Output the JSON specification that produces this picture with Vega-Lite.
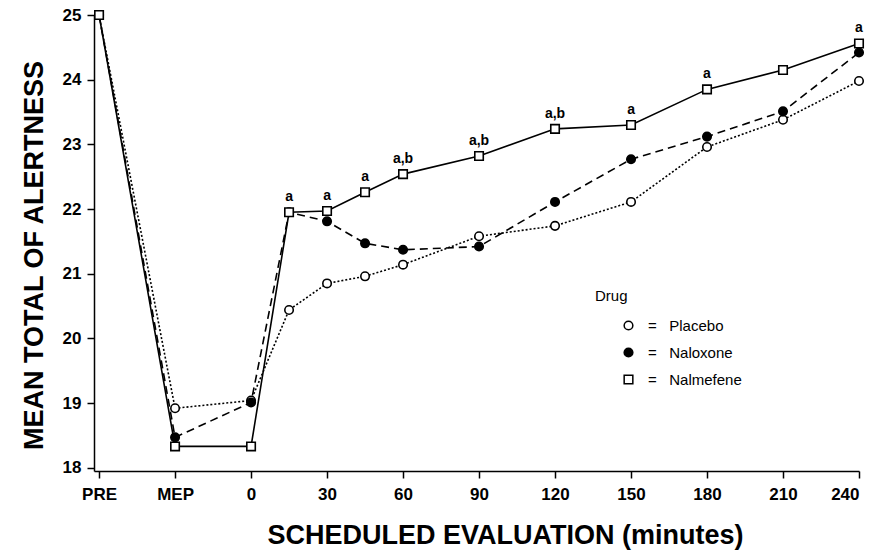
{
  "$schema": "https://vega.github.io/schema/vega-lite/v6.json",
  "autosize": {"type": "none"},
  "width": 765,
  "height": 456,
  "padding": {"left": 94, "top": 15, "right": 19, "bottom": 80},
  "background": "white",
  "config": {
    "font": "Liberation Sans",
    "view": {"stroke": null},
    "axis": {"grid": false, "domainColor": "black", "domainWidth": 1.5, "tickColor": "black", "tickWidth": 1.5, "tickSize": 7, "labelColor": "black", "labelFont": "Liberation Sans", "labelFontWeight": "bold", "labelFontSize": 17, "titleFont": "Liberation Sans", "titleFontWeight": "bold", "titleFontSize": 27, "titleColor": "black"},
    "legend": {"orient": "none", "legendX": 501, "legendY": 274, "titleFont": "Liberation Sans", "titleFontSize": 15, "titleFontWeight": "normal", "titleColor": "black", "titlePadding": 14, "labelFont": "Liberation Sans", "labelFontSize": 15, "labelColor": "black", "symbolSize": 75, "symbolOffset": 26, "rowPadding": 11, "labelOffset": 12}
  },
  "data": {"values": [
    {"t": -60, "drug": "Placebo", "v": 25, "ann": ""},
    {"t": -30, "drug": "Placebo", "v": 18.92, "ann": ""},
    {"t": 0, "drug": "Placebo", "v": 19.04, "ann": ""},
    {"t": 15, "drug": "Placebo", "v": 20.44, "ann": ""},
    {"t": 30, "drug": "Placebo", "v": 20.85, "ann": ""},
    {"t": 45, "drug": "Placebo", "v": 20.96, "ann": ""},
    {"t": 60, "drug": "Placebo", "v": 21.14, "ann": ""},
    {"t": 90, "drug": "Placebo", "v": 21.58, "ann": ""},
    {"t": 120, "drug": "Placebo", "v": 21.74, "ann": ""},
    {"t": 150, "drug": "Placebo", "v": 22.11, "ann": ""},
    {"t": 180, "drug": "Placebo", "v": 22.96, "ann": ""},
    {"t": 210, "drug": "Placebo", "v": 23.38, "ann": ""},
    {"t": 240, "drug": "Placebo", "v": 23.98, "ann": ""},
    {"t": -60, "drug": "Naloxone", "v": 25, "ann": ""},
    {"t": -30, "drug": "Naloxone", "v": 18.47, "ann": ""},
    {"t": 0, "drug": "Naloxone", "v": 19.01, "ann": ""},
    {"t": 15, "drug": "Naloxone", "v": 21.95, "ann": ""},
    {"t": 30, "drug": "Naloxone", "v": 21.81, "ann": ""},
    {"t": 45, "drug": "Naloxone", "v": 21.47, "ann": ""},
    {"t": 60, "drug": "Naloxone", "v": 21.37, "ann": ""},
    {"t": 90, "drug": "Naloxone", "v": 21.42, "ann": ""},
    {"t": 120, "drug": "Naloxone", "v": 22.11, "ann": ""},
    {"t": 150, "drug": "Naloxone", "v": 22.77, "ann": ""},
    {"t": 180, "drug": "Naloxone", "v": 23.12, "ann": ""},
    {"t": 210, "drug": "Naloxone", "v": 23.51, "ann": ""},
    {"t": 240, "drug": "Naloxone", "v": 24.42, "ann": ""},
    {"t": -60, "drug": "Nalmefene", "v": 25, "ann": ""},
    {"t": -30, "drug": "Nalmefene", "v": 18.33, "ann": ""},
    {"t": 0, "drug": "Nalmefene", "v": 18.33, "ann": ""},
    {"t": 15, "drug": "Nalmefene", "v": 21.95, "ann": "a"},
    {"t": 30, "drug": "Nalmefene", "v": 21.97, "ann": "a"},
    {"t": 45, "drug": "Nalmefene", "v": 22.26, "ann": "a"},
    {"t": 60, "drug": "Nalmefene", "v": 22.54, "ann": "a,b"},
    {"t": 90, "drug": "Nalmefene", "v": 22.82, "ann": "a,b"},
    {"t": 120, "drug": "Nalmefene", "v": 23.24, "ann": "a,b"},
    {"t": 150, "drug": "Nalmefene", "v": 23.30, "ann": "a"},
    {"t": 180, "drug": "Nalmefene", "v": 23.85, "ann": "a"},
    {"t": 210, "drug": "Nalmefene", "v": 24.15, "ann": ""},
    {"t": 240, "drug": "Nalmefene", "v": 24.56, "ann": "a"}
  ]},
  "encoding": {
    "x": {"field": "t", "type": "quantitative", "scale": {"domain": [-62, 240], "nice": false, "zero": false},
      "axis": {"values": [-60, -30, 0, 30, 60, 90, 120, 150, 180, 210, 240], "labelExpr": "datum.value == -60 ? 'PRE' : datum.value == -30 ? 'MEP' : datum.label", "title": "SCHEDULED EVALUATION (minutes)", "labelPadding": 8, "titlePadding": 20, "titleX": 411}},
    "y": {"field": "v", "type": "quantitative", "scale": {"domain": [17.95, 25], "nice": false, "zero": false},
      "axis": {"values": [18, 19, 20, 21, 22, 23, 24, 25], "title": "MEAN TOTAL OF ALERTNESS", "labelPadding": 6, "titlePadding": 14, "titleY": 240}}
  },
  "layer": [
    {
      "transform": [{"filter": "datum.drug == 'Placebo'"}],
      "mark": {"type": "line", "stroke": "black", "strokeWidth": 1.6, "strokeDash": [2, 2]},
      "encoding": {}
    },
    {
      "transform": [{"filter": "datum.drug == 'Naloxone'"}],
      "mark": {"type": "line", "stroke": "black", "strokeWidth": 1.6, "strokeDash": [8, 5]},
      "encoding": {}
    },
    {
      "transform": [{"filter": "datum.drug == 'Nalmefene'"}],
      "mark": {"type": "line", "stroke": "black", "strokeWidth": 1.6},
      "encoding": {}
    },
    {
      "mark": {"type": "point", "stroke": "black", "strokeWidth": 1.6, "opacity": 1, "size": 72},
      "encoding": {
        "shape": {"field": "drug", "type": "nominal", "title": "Drug", "scale": {"domain": ["Placebo", "Naloxone", "Nalmefene"], "range": ["circle", "circle", "square"]},
          "legend": {"labelExpr": "'=\u00a0\u00a0\u00a0' + datum.label", "encode": {"symbols": {"update": {"stroke": {"value": "black"}, "strokeWidth": {"value": 1.6}}}}}},
        "fill": {"field": "drug", "type": "nominal", "title": "Drug", "scale": {"domain": ["Placebo", "Naloxone", "Nalmefene"], "range": ["white", "black", "white"]},
          "legend": {"labelExpr": "'=\u00a0\u00a0\u00a0' + datum.label", "encode": {"symbols": {"update": {"stroke": {"value": "black"}, "strokeWidth": {"value": 1.6}}}}}}
      }
    },
    {
      "transform": [{"filter": "datum.ann != ''"}],
      "mark": {"type": "text", "dy": -15, "fontSize": 14, "fontWeight": "bold", "font": "Liberation Sans", "color": "black"},
      "encoding": {"text": {"field": "ann"}}
    }
  ]
}
